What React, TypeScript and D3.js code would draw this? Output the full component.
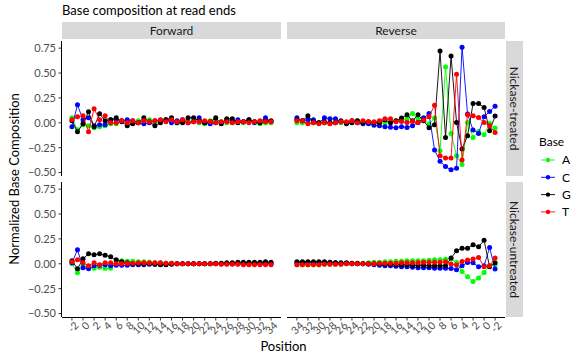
import React from "react";
import * as d3 from "d3";

// ---------- data ----------
const positions = [-2, -1, 0, 1, 2, 3, 4, 5, 6, 7, 8, 9, 10, 11, 12, 13, 14, 15, 16, 17, 18, 19, 20, 21, 22, 23, 24, 25, 26, 27, 28, 29, 30, 31, 32, 33, 34];
const xTicks = [-2, 0, 2, 4, 6, 8, 10, 12, 14, 16, 18, 20, 22, 24, 26, 28, 30, 32, 34];
const yTicks = [-0.5, -0.25, 0, 0.25, 0.5, 0.75];
const bases = ["A", "C", "G", "T"];
const baseColors = ["#00ff00", "#0000ff", "#000000", "#ff0000"];
const directions = ["Forward", "Reverse"];
const treatments = ["Nickase-treated", "Nickase-untreated"];

// Forward, Nickase-treated
const fwdTreatedA = [0.05, -0.07, -0.02, -0.03, -0.05, -0.04, -0.03, -0.01, -0.01, 0.02, 0.01, 0.0, 0.02, 0.01, 0.03, 0.0, 0.03, 0.02, 0.03, 0.0, 0.02, 0.01, 0.02, 0.0, -0.01, 0.02, 0.03, 0.01, 0.0, 0.0, 0.01, 0.0, 0.02, 0.01, -0.01, 0.0, 0.0];
const fwdTreatedC = [-0.04, 0.18, 0.03, 0.05, -0.03, -0.02, -0.02, 0.03, 0.03, 0.02, 0.03, 0.02, 0.0, -0.01, 0.0, 0.02, 0.02, 0.03, 0.0, 0.02, 0.03, 0.0, 0.01, 0.05, 0.0, -0.01, 0.0, 0.0, 0.03, 0.01, 0.03, 0.01, 0.03, 0.0, 0.01, 0.05, 0.01];
const fwdTreatedG = [0.02, -0.09, -0.01, 0.11, -0.04, 0.09, 0.02, 0.03, 0.05, 0.01, -0.03, -0.01, 0.0, 0.05, 0.01, -0.03, 0.0, 0.03, 0.05, 0.0, 0.0, 0.05, 0.05, 0.02, 0.0, 0.01, 0.05, -0.01, 0.04, 0.04, 0.0, 0.01, 0.03, 0.01, 0.0, 0.02, 0.02];
const fwdTreatedT = [0.03, 0.06, 0.07, -0.09, 0.14, 0.03, 0.07, 0.0, 0.0, 0.02, 0.0, 0.02, 0.0, 0.02, 0.01, 0.02, 0.03, 0.01, 0.03, 0.01, 0.03, 0.0, 0.01, 0.01, 0.02, 0.01, 0.0, 0.01, 0.01, 0.0, 0.01, 0.01, 0.0, 0.01, 0.02, 0.01, 0.01];

// Reverse, Nickase-treated
const revTreatedA = [-0.053, -0.007, -0.12, -0.087, -0.147, 0.003, -0.42, -0.33, -0.107, 0.56, -0.28, 0.047, -0.013, 0.05, 0.037, 0.093, 0.037, 0.02, 0.02, 0.01, 0.0, 0.01, 0.0, 0.0, 0.01, 0.02, 0.02, 0.0, 0.0, 0.01, 0.0, 0.0, 0.0, 0.0, 0.0, 0.0, 0.0];
const revTreatedC = [0.167, 0.113, 0.06, -0.107, -0.073, 0.087, 0.76, -0.457, -0.473, -0.44, -0.387, -0.273, 0.093, 0.047, 0.003, -0.03, -0.047, -0.04, -0.05, -0.045, -0.04, -0.03, -0.025, -0.01, -0.01, 0.0, 0.02, 0.0, 0.01, 0.04, 0.04, 0.05, 0.0, 0.03, 0.03, 0.02, 0.05];
const revTreatedG = [0.067, -0.08, 0.153, 0.193, 0.193, -0.13, -0.263, 0.003, 0.67, -0.147, 0.72, -0.02, -0.05, 0.02, 0.08, 0.02, 0.08, 0.047, 0.02, 0.0, 0.03, 0.0, 0.0, 0.01, 0.0, 0.02, 0.0, -0.01, 0.02, 0.0, 0.0, 0.01, 0.0, 0.01, 0.07, 0.02, 0.03];
const revTreatedT = [-0.097, -0.03, 0.003, 0.053, 0.07, 0.08, -0.373, 0.487, -0.353, -0.353, -0.33, 0.177, 0.06, 0.027, 0.003, 0.013, 0.003, 0.013, 0.01, 0.04, 0.04, 0.02, 0.01, 0.01, 0.02, 0.0, 0.02, 0.01, 0.01, 0.0, -0.01, 0.0, -0.01, 0.0, -0.01, 0.02, 0.02];

// Forward, Nickase-untreated
const fwdUntreatedA = [0.0, -0.09, -0.02, -0.04, -0.045, -0.035, -0.045, -0.045, 0.03, 0.03, 0.025, 0.025, 0.02, 0.02, 0.015, 0.01, 0.01, 0.005, 0.005, 0.0, 0.0, 0.0, 0.0, 0.0, 0.0, 0.0, 0.0, 0.0, 0.0, 0.0, 0.0, 0.0, 0.0, 0.0, 0.0, 0.0, 0.0];
const fwdUntreatedC = [0.01, 0.14, -0.04, -0.05, -0.02, -0.015, -0.01, -0.02, -0.015, -0.015, -0.015, -0.01, -0.01, -0.01, -0.005, -0.005, -0.005, -0.005, 0.0, 0.0, 0.0, 0.0, 0.0, 0.0, 0.0, 0.0, 0.0, 0.0, 0.0, 0.0, 0.0, 0.0, 0.0, 0.0, 0.0, 0.0, 0.0];
const fwdUntreatedG = [0.03, -0.05, 0.05, 0.1, 0.09, 0.1, 0.085, 0.07, 0.04, 0.02, 0.01, 0.0, 0.0, 0.0, 0.0, -0.005, -0.01, -0.01, -0.005, 0.0, 0.0, 0.0, 0.0, 0.0, 0.0, 0.0, 0.005, 0.005, 0.01, 0.01, 0.015, 0.015, 0.015, 0.015, 0.015, 0.02, 0.015];
const fwdUntreatedT = [0.02, 0.04, 0.01, -0.02, 0.01, -0.01, 0.01, 0.01, 0.0, 0.0, 0.005, 0.005, 0.01, 0.01, 0.01, 0.01, 0.01, 0.005, 0.005, 0.0, 0.0, 0.0, 0.0, 0.0, 0.0, 0.0, 0.0, -0.005, -0.005, -0.005, -0.005, -0.01, -0.01, -0.01, -0.01, -0.01, -0.01];

// Reverse, Nickase-untreated
const revUntreatedA = [-0.01, -0.02, -0.087, -0.143, -0.177, -0.13, -0.077, 0.013, 0.05, 0.045, 0.04, 0.04, 0.035, 0.03, 0.03, 0.03, 0.03, 0.025, 0.025, 0.02, 0.02, 0.015, 0.015, 0.01, 0.005, 0.0, 0.0, 0.0, -0.005, -0.005, -0.005, -0.005, -0.01, -0.01, -0.01, -0.01, -0.01];
const revUntreatedC = [-0.053, 0.163, -0.02, -0.03, 0.01, 0.013, -0.02, -0.06, -0.047, -0.045, -0.045, -0.045, -0.04, -0.04, -0.04, -0.035, -0.03, -0.03, -0.025, -0.02, -0.02, -0.015, -0.01, -0.005, 0.0, 0.0, 0.0, 0.005, 0.005, 0.01, 0.01, 0.01, 0.01, 0.01, 0.01, 0.01, 0.01];
const revUntreatedG = [0.01, -0.03, 0.237, 0.17, 0.19, 0.157, 0.157, 0.13, 0.057, -0.02, -0.02, -0.02, -0.02, -0.015, -0.015, -0.015, -0.01, -0.01, -0.01, -0.005, -0.005, 0.0, 0.0, 0.0, 0.0, 0.005, 0.005, 0.01, 0.01, 0.01, 0.015, 0.02, 0.02, 0.02, 0.02, 0.02, 0.02];
const revUntreatedT = [0.057, -0.02, -0.03, 0.063, 0.047, 0.037, 0.023, -0.013, -0.003, 0.02, 0.015, 0.015, 0.015, 0.015, 0.01, 0.01, 0.01, 0.01, 0.005, 0.005, 0.005, 0.005, 0.0, 0.0, 0.0, 0.0, 0.0, 0.0, -0.005, -0.005, -0.005, -0.005, -0.01, -0.01, -0.01, -0.01, -0.01];

const panelSeries: number[][][][] = [
  // row 0: treated
  [
    [fwdTreatedA, fwdTreatedC, fwdTreatedG, fwdTreatedT],
    [revTreatedA, revTreatedC, revTreatedG, revTreatedT],
  ],
  // row 1: untreated
  [
    [fwdUntreatedA, fwdUntreatedC, fwdUntreatedG, fwdUntreatedT],
    [revUntreatedA, revUntreatedC, revUntreatedG, revUntreatedT],
  ],
];

const FONT = "Lato, 'Open Sans', 'DejaVu Sans', sans-serif";

export default function App() {
  // layout
  const panelX = [
    [62, 281],
    [287, 505],
  ];
  const panelY = [
    [41, 176],
    [182, 317],
  ];
  const stripTop = [22, 39];
  const stripRight = [506, 523];

  const xExt = d3.extent(positions) as [number, number];
  const xPad = (xExt[1] - xExt[0]) * 0.05;
  const xScales = [
    d3.scaleLinear().domain([xExt[0] - xPad, xExt[1] + xPad]).range(panelX[0]),
    d3.scaleLinear().domain([xExt[1] + xPad, xExt[0] - xPad]).range(panelX[1]),
  ];

  const all = panelSeries.flat(3);
  const yExt = d3.extent(all) as [number, number];
  const yPad = (yExt[1] - yExt[0]) * 0.05;
  const yScales = panelY.map((r) =>
    d3.scaleLinear().domain([yExt[0] - yPad, yExt[1] + yPad]).range([r[1], r[0]])
  );

  const fmt = d3.format(".2f");
  const tickColor = "#4d4d4d";

  return (
    <svg
      width={588}
      height={358}
      style={{ position: "fixed", left: 0, top: 0, background: "#fff" }}
      fontFamily={FONT}
    >
      <rect x={0} y={0} width={588} height={358} fill="#fff" />
      {/* title */}
      <text x={62} y={15} fontSize={13} fill="#000">
        Base composition at read ends
      </text>

      {/* top strips */}
      {directions.map((d, i) => (
        <g key={d}>
          <rect
            x={panelX[i][0]}
            y={stripTop[0]}
            width={panelX[i][1] - panelX[i][0]}
            height={stripTop[1] - stripTop[0]}
            fill="#d9d9d9"
          />
          <text
            x={(panelX[i][0] + panelX[i][1]) / 2}
            y={(stripTop[0] + stripTop[1]) / 2}
            dy="0.35em"
            textAnchor="middle"
            fontSize={12}
            fill="#1a1a1a"
          >
            {d}
          </text>
        </g>
      ))}

      {/* right strips */}
      {treatments.map((t, j) => {
        const cx = (stripRight[0] + stripRight[1]) / 2;
        const cy = (panelY[j][0] + panelY[j][1]) / 2;
        return (
          <g key={t}>
            <rect
              x={stripRight[0]}
              y={panelY[j][0]}
              width={stripRight[1] - stripRight[0]}
              height={panelY[j][1] - panelY[j][0]}
              fill="#d9d9d9"
            />
            <text
              transform={`translate(${cx},${cy}) rotate(90)`}
              dy="0.35em"
              textAnchor="middle"
              fontSize={12}
              fill="#1a1a1a"
            >
              {t}
            </text>
          </g>
        );
      })}

      {/* panels */}
      {panelSeries.map((row, j) =>
        row.map((series, i) => {
          const xs = xScales[i];
          const ys = yScales[j];
          const line = d3
            .line<number>()
            .x((_, k) => xs(positions[k]))
            .y((v) => ys(v));
          return (
            <g key={`${j}-${i}`}>
              {series.map((vals, b) => (
                <g key={bases[b]}>
                  <path d={line(vals) || ""} fill="none" stroke={baseColors[b]} strokeWidth={0.9} />
                  {vals.map((v, k) => (
                    <circle key={k} cx={xs(positions[k])} cy={ys(v)} r={2.5} fill={baseColors[b]} />
                  ))}
                </g>
              ))}
            </g>
          );
        })
      )}

      {/* y axes */}
      {panelY.map((r, j) => (
        <g key={`ya${j}`}>
          <line x1={61.5} x2={61.5} y1={r[0]} y2={r[1]} stroke="#000" strokeWidth={1} />
          {yTicks.map((t) => {
            const y = yScales[j](t);
            return (
              <g key={t}>
                <line x1={58.5} x2={61.5} y1={y} y2={y} stroke="#333" strokeWidth={1} />
                <text x={56} y={y} dy="0.35em" textAnchor="end" fontSize={11} fill={tickColor}>
                  {fmt(t)}
                </text>
              </g>
            );
          })}
        </g>
      ))}

      {/* x axes */}
      {panelX.map((r, i) => (
        <g key={`xa${i}`}>
          <line x1={r[0]} x2={r[1]} y1={317.5} y2={317.5} stroke="#000" strokeWidth={1} />
          {xTicks.map((t) => {
            const x = xScales[i](t);
            return (
              <g key={t}>
                <line x1={x} x2={x} y1={317.5} y2={320.5} stroke="#333" strokeWidth={1} />
                <text
                  transform={`translate(${x + 2},${321}) rotate(-45)`}
                  dy="0.71em"
                  textAnchor="end"
                  fontSize={10.5}
                  fill={tickColor}
                >
                  {t}
                </text>
              </g>
            );
          })}
        </g>
      ))}

      {/* axis titles */}
      <text x={(panelX[0][0] + panelX[1][1]) / 2} y={351} textAnchor="middle" fontSize={13} fill="#000">
        Position
      </text>
      <text
        transform={`translate(14,${(panelY[0][0] + panelY[1][1]) / 2}) rotate(-90)`}
        dy="0.35em"
        textAnchor="middle"
        fontSize={13}
        fill="#000"
      >
        Normalized Base Composition
      </text>

      {/* legend */}
      <text x={539} y={146} fontSize={12} fill="#000">
        Base
      </text>
      {bases.map((b, k) => {
        const y = 160 + k * 17.3;
        return (
          <g key={b}>
            <line x1={541} x2={555} y1={y} y2={y} stroke={baseColors[k]} strokeWidth={0.9} />
            <circle cx={548} cy={y} r={2.2} fill={baseColors[k]} />
            <text x={562} y={y} dy="0.35em" fontSize={12} fill="#000">
              {b}
            </text>
          </g>
        );
      })}
    </svg>
  );
}
